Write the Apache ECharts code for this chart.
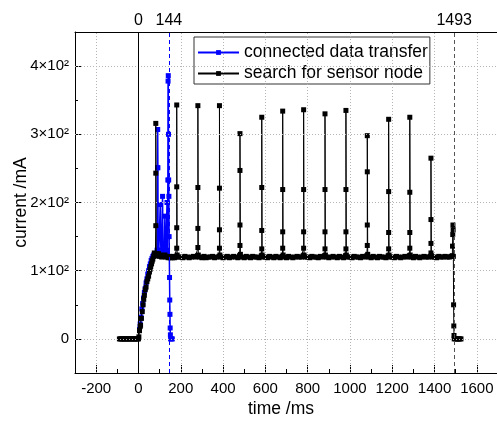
<!DOCTYPE html>
<html><head><meta charset="utf-8">
<script src="https://cdn.jsdelivr.net/npm/echarts@6/dist/echarts.min.js"></script>
<style>html,body{margin:0;padding:0;background:#fff}#c{width:497px;height:422px}</style>
</head><body><div id="c"></div>
<script>
// ---- data ----
const seriesNames = ['connected data transfer', 'search for sensor node'];

const searchTime = [
 -90,-85,-80,-75,-70,-65,-60,-55,-50,-45,-40,-35,-30,-25,-20,-15,-10,-5,0,
 2,5,8,10,14,18,22,25,28,32,36,40,44,48,52,55,58,62,65,68,72,75,78,
 80,82,82,82,84,
 90,95,100,105,110,115,120,125,130,135,140,145,150,155,160,165,170,175,179,
 181,181,181,181,183,
 190,200,210,220,230,240,250,260,270,279,
 281,281,281,281,283,
 290,300,310,320,330,340,350,360,370,381,
 383,383,383,383,385,
 390,400,410,420,430,440,450,460,470,478,
 480,480,480,480,482,
 490,500,510,520,530,540,550,560,570,581,
 583,583,583,583,585,
 590,600,610,620,630,640,650,660,670,680,
 682,682,682,682,684,
 690,700,710,720,730,740,750,760,770,779,
 781,781,781,781,783,
 790,800,810,820,830,840,850,860,870,880,
 882,882,882,882,884,
 890,900,910,920,930,940,950,960,970,979,
 981,981,981,981,983,
 990,1000,1010,1020,1030,1040,1050,1060,1070,1080,
 1082,1082,1082,1082,1084,
 1090,1100,1110,1120,1130,1140,1150,1160,1170,1181,
 1183,1183,1183,1183,1185,
 1190,1200,1210,1220,1230,1240,1250,1260,1270,1281,
 1283,1283,1283,1283,1285,
 1290,1300,1310,1320,1330,1340,1350,1360,1370,1381,
 1383,1383,1383,1383,1385,
 1390,1400,1410,1420,1430,1440,1450,1460,1470,1478,1484,1485,1486,1487,1488,1489,1490,1491,1492,1493,
 1500,1505,1510,1515,1520,1525
];
const searchCurrent = [
 0,0,0,0,0,0,0,0,0,0,0,0,0,0,0,0,0,0,0,
 3,12,18,20,30,40,50,58,64,72,76,84,88,92,98,102,106,110,114,117,121,126,124,
 122,166,243,316,125,
 122,125,121,123,120,122,121,123,120,121,119,121,119,120,119,121,119,120,121,
 133,163,223,343,123,
 120,120,119,121,120,119,120,121,120,122,
 134,162,222,342,123,
 120,119,121,119,120,120,121,119,120,121,
 133,160,221,342,123,
 120,119,120,121,119,120,121,120,119,122,
 137,167,247,301,124,
 120,119,121,120,119,121,120,120,119,122,
 132,159,222,325,123,
 120,120,119,121,120,119,121,120,119,121,
 133,157,219,334,123,
 120,119,121,120,119,120,121,120,120,122,
 133,157,219,336,123,
 120,120,119,121,120,120,119,121,120,122,
 132,157,219,330,123,
 120,119,120,121,120,119,121,120,119,122,
 132,157,219,335,123,
 120,120,119,121,120,120,119,121,120,122,
 137,167,245,298,124,
 120,119,121,120,119,121,120,120,119,122,
 132,156,216,322,123,
 120,120,119,121,120,119,120,121,120,122,
 133,156,215,325,123,
 120,119,121,120,119,120,121,120,120,121,
 126,140,175,265,122,
 120,120,119,121,120,120,121,120,120,121,122,136,153,167,160,121,50,19,5,0,
 0,0,0,0,0,0
];

const transferTime = [
 5,8,12,16,20,24,28,32,36,40,44,48,52,56,60,64,68,72,76,80,84,
 88,90,91,92,93,96,
 100,103,104,106,108,
 112,114,116,118,
 122,125,127,130,
 133,135,137,
 139,140,141,142,143,144,145,146,147,148,149,150,151,152,156,160
];
const transferCurrent = [
 14,22,32,44,52,60,68,74,82,88,95,100,106,110,115,118,121,123,122,125,124,
 130,251,307,251,130,124,
 126,197,160,130,124,
 126,209,130,125,
 128,180,128,124,
 126,200,130,
 233,378,386,300,233,209,150,120,90,57,36,16,6,0,0,0
];

const xTickValues = [-200,0,200,400,600,800,1000,1200,1400,1600];
const yTickValues = [0,100,200,300,400];
const yTickLabels = ['0','1×10²','2×10²','3×10²','4×10²'];
const topTickValues = [0,144,1493];
const axisTitles = {x: 'time /ms', y: 'current /mA'};

// ---- chart ----
const zip = (a, b) => a.map((t, i) => [t, b[i]]);
const FONT = '"Liberation Sans", Arial, sans-serif';
const chart = echarts.init(document.getElementById('c'), null, {renderer: 'canvas'});
const xRange = {min: -300, max: 1700};
const yRange = {min: -50, max: 450};
const gridStyle = {color: '#b4b4b4', type: [1, 2], width: 1};

chart.setOption({
  animation: false,
  backgroundColor: '#fff',
  textStyle: {fontFamily: FONT, color: '#000'},
  grid: {left: 75, top: 32, bottom: 49, right: -1, containLabel: false, outerBoundsMode: 'none'},
  legend: {
    data: seriesNames,
    orient: 'vertical',
    left: 194, top: 37,
    padding: [5, 2, 0, 3],
    itemWidth: 41, itemHeight: 6, itemGap: 0, itemTextGap: 4,
    borderColor: '#333', borderWidth: 1, backgroundColor: '#fff',
    textStyle: {fontFamily: FONT, fontSize: 17.5, lineHeight: 21, color: '#000'}
  },
  xAxis: [
    {type: 'value', ...xRange, interval: 100, position: 'bottom',
     axisLine: {show: true, onZero: false, lineStyle: {color: '#000', width: 1}},
     axisTick: {show: true, inside: true, length: 4, lineStyle: {color: '#000'}},
     axisLabel: {customValues: xTickValues, formatter: v => String(v), fontFamily: FONT, fontSize: 15, color: '#000', margin: 8},
     splitLine: {show: false},
     name: axisTitles.x, nameLocation: 'middle', nameGap: 27, nameMoveOverlap: false,
     nameTextStyle: {fontFamily: FONT, fontSize: 17.5, color: '#000', padding: [0, 11, 0, 0]}},
    {type: 'value', ...xRange, interval: 100, position: 'bottom',
     axisLine: {show: false, onZero: false},
     axisTick: {show: true, inside: true, length: 8, customValues: xTickValues, lineStyle: {color: '#000'}},
     axisLabel: {show: false},
     splitLine: {show: false}},
    {type: 'value', ...xRange, interval: 100, position: 'top',
     axisLine: {show: true, onZero: false, lineStyle: {color: '#000', width: 1}},
     axisTick: {show: false},
     axisLabel: {customValues: topTickValues, formatter: v => String(v), fontFamily: FONT, fontSize: 16, color: '#000', margin: 3},
     splitLine: {show: false}}
  ],
  yAxis: [
    {type: 'value', ...yRange, interval: 50, position: 'left',
     axisLine: {show: true, onZero: false, lineStyle: {color: '#000', width: 1}},
     axisTick: {show: true, inside: true, length: 3, lineStyle: {color: '#000'}},
     axisLabel: {customValues: yTickValues, formatter: v => yTickLabels[yTickValues.indexOf(v)], fontFamily: FONT, fontSize: 15, color: '#000', margin: 6},
     splitLine: {show: false},
     name: axisTitles.y, nameLocation: 'middle', nameGap: 45, nameMoveOverlap: false,
     nameTextStyle: {fontFamily: FONT, fontSize: 17.5, color: '#000'}},
    {type: 'value', ...yRange, interval: 50, position: 'left',
     axisLine: {show: false, onZero: false},
     axisTick: {show: true, inside: true, length: 6, customValues: yTickValues, lineStyle: {color: '#000'}},
     axisLabel: {show: false},
     splitLine: {show: false}}
  ],
  series: [
    {name: 'grid', type: 'line', xAxisIndex: 0, yAxisIndex: 0, data: [], z: 1,
     markLine: {silent: true, symbol: ['none', 'none'], label: {show: false}, lineStyle: gridStyle,
       data: xTickValues.filter(v => v !== 0).map(v => ({xAxis: v}))
             .concat(yTickValues.map(v => ({yAxis: v})))}},
    {name: seriesNames[0], type: 'line', xAxisIndex: 0, yAxisIndex: 0,
     data: zip(transferTime, transferCurrent),
     symbol: 'rect', symbolSize: 5, showSymbol: true, showAllSymbol: true,
     lineStyle: {color: '#0000ff', width: 1.5}, itemStyle: {color: '#0000ff'},
     z: 3},
    {name: seriesNames[1], type: 'line', xAxisIndex: 0, yAxisIndex: 0,
     data: zip(searchTime, searchCurrent),
     symbol: 'rect', symbolSize: 5, showSymbol: true, showAllSymbol: true,
     lineStyle: {color: '#000', width: 1}, itemStyle: {color: '#000'},
     z: 4,
     markLine: {silent: true, symbol: ['none', 'none'], label: {show: false},
       data: [
         {xAxis: topTickValues[0], lineStyle: {color: '#000', type: 'solid', width: 1}},
         {xAxis: topTickValues[1], lineStyle: {color: '#0000ff', type: [4, 3], width: 1}},
         {xAxis: topTickValues[2], lineStyle: {color: '#555', type: [4, 3], width: 1}}
       ]}}
  ]
});
</script>
</body></html>
